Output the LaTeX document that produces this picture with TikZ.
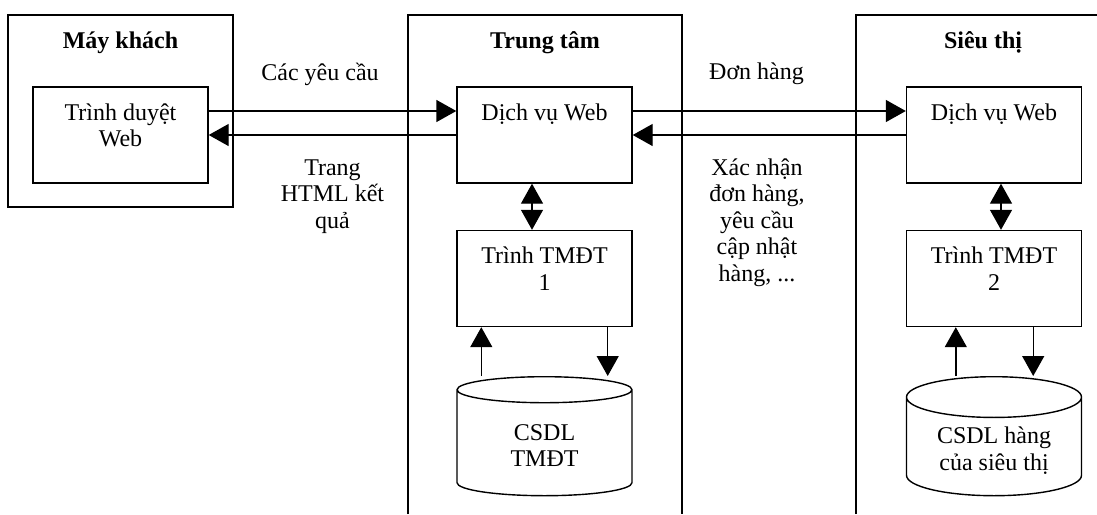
\documentclass[tikz,border=0pt]{standalone}
\usepackage{fontspec}
\setmainfont{Liberation Serif}
\usetikzlibrary{arrows.meta,shapes.geometric}
\newcommand\chu{\fontsize{12}{13.25}\selectfont}

\begin{document}
\begin{tikzpicture}[x=0.5pt,y=-0.5pt, line width=0.7pt, font=\chu,
    >={Triangle[length=10pt,width=11pt]},
    khung/.style={draw, minimum width=87.5pt, minimum height=48pt},
    chukhung/.style={align=center, anchor=north, yshift=-5pt},
    tieude/.style={font=\chu\bfseries, anchor=base},
    nhan/.style={align=center, anchor=base},
    csdl/.style={draw, cylinder, shape border rotate=90, aspect=0.32, anchor=north,
      minimum width=87.5pt, minimum height=59.5pt, align=center}]
  \useasboundingbox (0,0) rectangle (1097,514);
  % ba khoi
  \node[draw, minimum width=112.5pt, minimum height=96pt] (may) at (120.5,111) {};
  \draw (408,514) -- (408,15) -- (682,15) -- (682,514);
  \draw (856,514) -- (856,15) -- (1097,15);
  \node[tieude] (tmay) at (120.5,48) {Máy khách};
  \node[tieude] (ttam) at (545,48) {Trung tâm};
  \node[tieude] (tsieuthi) at (983,48) {Siêu thị};
  % cac hop
  \node[khung, label={[chukhung]90:Trình duyệt\\Web}] (trinhduyet) at (120.5,135) {};
  \node[khung, label={[chukhung]90:Dịch vụ Web}] (web1) at (544.5,135) {};
  \node[khung, label={[chukhung]90:Trình TMĐT\\1}] (tmdt1) at (544.5,278.5) {};
  \node[khung, label={[chukhung]90:Dịch vụ Web}] (web2) at (994,135) {};
  \node[khung, label={[chukhung]90:Trình TMĐT\\2}] (tmdt2) at (994,278.5) {};
  \node[csdl] (db1) at (544.5,376) {CSDL\\TMĐT};
  \node[csdl] (db2) at (994,376) {CSDL hàng\\của siêu thị};
  % nhan tren mui ten
  \node[nhan] (yeucau) at (320,80) {Các yêu cầu};
  \node[nhan] (trang) at (332.5,228) {Trang\\HTML kết\\quả};
  \node[nhan] (donhang) at (756.5,79) {Đơn hàng};
  \node[nhan] (xacnhan) at (757,281) {Xác nhận\\đơn hàng,\\yêu cầu\\cập nhật\\hàng, ...};
  % mui ten
  \draw[->] ([yshift=12pt]trinhduyet.east) -- ([yshift=12pt]web1.west);
  \draw[->] (web1.west) -- (trinhduyet.east);
  \draw[->] ([yshift=12pt]web1.east) -- ([yshift=12pt]web2.west);
  \draw[->] (web2.west) -- (web1.east);
  \draw[<->] ([xshift=-6.25pt]web1.south) -- ([xshift=-6.25pt]tmdt1.north);
  \draw[<->] ([xshift=3.5pt]web2.south) -- ([xshift=3.5pt]tmdt2.north);
  \coordinate (len1) at ([xshift=12.5pt]tmdt1.south west);
  \coordinate (xuong1) at ([xshift=-12.5pt]tmdt1.south east);
  \coordinate (len2) at ([xshift=25pt]tmdt2.south west);
  \coordinate (xuong2) at ([xshift=-24.5pt]tmdt2.south east);
  \draw[->] (len1 |- db1.north) -- (len1);
  \draw[->] (xuong1) -- (xuong1 |- db1.north);
  \draw[->] (len2 |- db2.north) -- (len2);
  \draw[->] (xuong2) -- (xuong2 |- db2.north);
\end{tikzpicture}
\end{document}
